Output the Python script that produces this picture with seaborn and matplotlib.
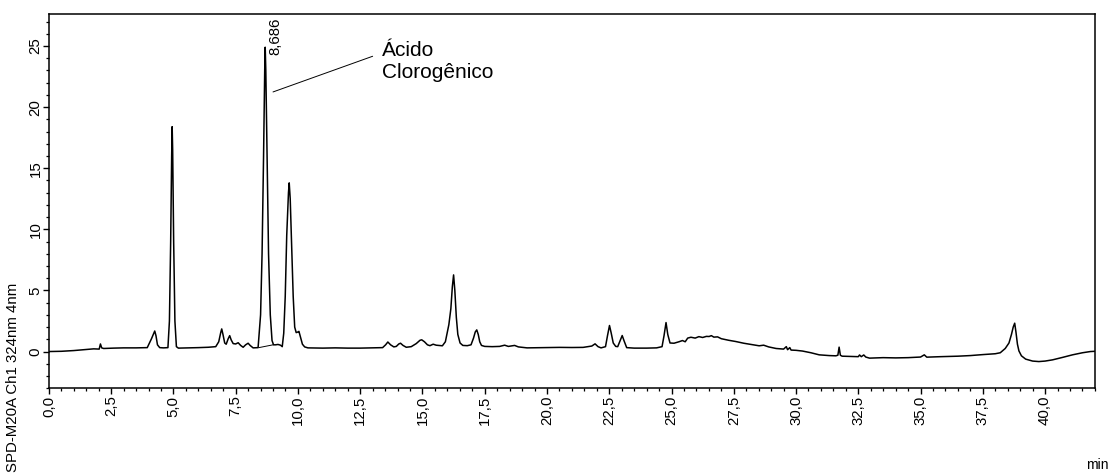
import matplotlib
matplotlib.use("Agg")
import matplotlib.pyplot as plt
from matplotlib.ticker import MultipleLocator, FuncFormatter
import numpy as np
import pandas as pd
import seaborn as sns

# Retention time (min) and detector signal of the chromatogram trace
time_min = [
    0.00, 0.50, 1.00, 1.40, 1.80, 2.02, 2.07, 2.12, 2.20, 2.60, 3.00, 3.50,
    3.95, 4.05, 4.12, 4.20, 4.25, 4.30, 4.36, 4.45, 4.60,
    4.78, 4.84, 4.89, 4.93, 4.95, 4.97, 5.01, 5.06, 5.12, 5.20,
    5.60, 6.00, 6.40, 6.70, 6.82, 6.90, 6.94, 6.99, 7.06, 7.12, 7.20, 7.26,
    7.32, 7.40, 7.50, 7.60, 7.70, 7.80, 7.90, 8.00, 8.08, 8.20,
    8.40, 8.50, 8.56, 8.62, 8.666, 8.686, 8.71, 8.76, 8.82, 8.89, 8.96, 9.02,
    9.10, 9.20, 9.30, 9.37, 9.43, 9.49, 9.55, 9.62, 9.65, 9.69, 9.75, 9.81,
    9.87, 9.93, 10.00, 10.04, 10.10, 10.18, 10.27, 10.40,
    11.00, 11.50, 12.00, 12.50, 13.00, 13.40, 13.52, 13.61, 13.72, 13.85,
    13.95, 14.05, 14.12, 14.22, 14.35, 14.55, 14.75, 14.90, 14.97, 15.08,
    15.20, 15.30, 15.43, 15.55, 15.80, 15.92, 16.00, 16.06, 16.14, 16.20,
    16.25, 16.30, 16.36, 16.42, 16.51, 16.62, 16.80, 16.95, 17.05, 17.12,
    17.18, 17.24, 17.30, 17.37, 17.50, 17.80, 18.10, 18.30, 18.45, 18.70,
    18.85, 19.20, 19.80, 20.50, 21.00, 21.45, 21.80, 21.93, 22.05, 22.17,
    22.35, 22.43, 22.51, 22.58, 22.66, 22.76, 22.84, 22.92, 23.02, 23.10,
    23.20, 23.50, 24.00, 24.40, 24.62, 24.70, 24.78, 24.85, 24.94, 25.10,
    25.30, 25.44, 25.55, 25.65, 25.78, 25.95, 26.10, 26.25, 26.40, 26.51,
    26.60, 26.70, 26.85, 27.00, 27.30, 27.58, 27.90, 28.20, 28.52, 28.70,
    28.90, 29.20, 29.50, 29.61, 29.66, 29.75, 29.80, 30.00, 30.26, 30.60,
    30.93, 31.33, 31.60, 31.68, 31.73, 31.78, 31.85, 32.20, 32.50, 32.55,
    32.62, 32.72, 32.80, 32.95, 33.50, 34.00, 34.50, 35.00, 35.15, 35.25,
    35.80, 36.50, 37.00, 37.50, 38.00, 38.20, 38.40, 38.55, 38.65, 38.72,
    38.78, 38.83, 38.89, 38.95, 39.05, 39.22, 39.50, 39.75, 40.00, 40.30,
    40.70, 41.10, 41.50, 41.82, 42.00,
]
signal = [
    0.00, 0.02, 0.08, 0.15, 0.22, 0.20, 0.62, 0.30, 0.25, 0.28, 0.30, 0.30,
    0.32, 0.75, 1.05, 1.45, 1.68, 1.30, 0.55, 0.32, 0.30,
    0.32, 2.50, 9.00, 16.00, 18.40, 16.50, 9.00, 2.50, 0.40, 0.28,
    0.30, 0.32, 0.35, 0.40, 0.80, 1.55, 1.85, 1.40, 0.70, 0.60, 1.05, 1.30,
    0.95, 0.65, 0.62, 0.72, 0.50, 0.35, 0.55, 0.68, 0.50, 0.30,
    0.32, 3.00, 8.00, 16.00, 23.00, 24.90, 23.00, 16.00, 8.00, 3.00, 0.90, 0.55,
    0.55, 0.58, 0.52, 0.40, 1.50, 4.50, 9.50, 13.00, 13.80, 12.50, 8.50, 4.50,
    2.00, 1.55, 1.60, 1.65, 1.20, 0.60, 0.38, 0.30,
    0.28, 0.30, 0.28, 0.28, 0.30, 0.32, 0.55, 0.78, 0.55, 0.38,
    0.42, 0.62, 0.68, 0.50, 0.35, 0.40, 0.65, 0.92, 0.96, 0.80,
    0.55, 0.48, 0.60, 0.52, 0.47, 0.80, 1.60, 2.20, 3.50, 5.30,
    6.27, 5.00, 2.80, 1.40, 0.70, 0.50, 0.48, 0.55, 1.10, 1.60,
    1.77, 1.40, 0.80, 0.50, 0.42, 0.40, 0.42, 0.52, 0.42, 0.50,
    0.38, 0.30, 0.32, 0.34, 0.33, 0.34, 0.45, 0.63, 0.40, 0.30,
    0.40, 1.30, 2.13, 1.50, 0.70, 0.42, 0.40, 0.80, 1.31, 0.85,
    0.32, 0.28, 0.28, 0.30, 0.40, 1.30, 2.37, 1.40, 0.70, 0.68,
    0.80, 0.90, 0.80, 1.10, 1.17, 1.10, 1.22, 1.15, 1.24, 1.23,
    1.30, 1.18, 1.20, 1.05, 0.92, 0.82, 0.68, 0.58, 0.47, 0.52,
    0.38, 0.25, 0.20, 0.40, 0.15, 0.32, 0.12, 0.10, 0.04, -0.10,
    -0.27, -0.33, -0.35, -0.30, 0.36, -0.30, -0.38, -0.40, -0.42, -0.28,
    -0.42, -0.28, -0.45, -0.54, -0.50, -0.52, -0.50, -0.45, -0.27, -0.46,
    -0.42, -0.38, -0.33, -0.25, -0.18, -0.10, 0.25, 0.70, 1.40, 2.00,
    2.32, 1.60, 0.60, 0.05, -0.35, -0.62, -0.78, -0.82, -0.78, -0.68,
    -0.48, -0.27, -0.10, 0.00, 0.02,
]

# Integration baseline drawn under the labelled peak
baseline_t = [8.43, 9.00]
baseline_y = [0.32, 0.55]

# Labelled peak (retention time, apex height)
peak_rt = 8.686
peak_height = 24.9
compound_name = "Ácido\nClorogênico"

x_ticks = [0.0, 2.5, 5.0, 7.5, 10.0, 12.5, 15.0, 17.5, 20.0, 22.5, 25.0,
           27.5, 30.0, 32.5, 35.0, 37.5, 40.0]
y_ticks = [0, 5, 10, 15, 20, 25]

sns.set_theme(style="ticks")
plt.rcParams["font.family"] = ["Liberation Sans", "DejaVu Sans"]

fig = plt.figure(figsize=(11.11, 4.74), dpi=100)
ax = fig.add_axes([0.044, 0.181, 0.9415, 0.789])

df = pd.DataFrame({"time": time_min, "signal": signal})
sns.lineplot(data=df, x="time", y="signal", ax=ax, color="black",
             linewidth=1.1, estimator=None, sort=False)
ax.plot(baseline_t, baseline_y, color="black", linewidth=0.7)

ax.set_xlim(0, 42)
ax.set_ylim(-3.0, 27.6)

ax.set_xticks(x_ticks)
ax.set_yticks(y_ticks)
ax.xaxis.set_minor_locator(MultipleLocator(0.5))
ax.yaxis.set_minor_locator(MultipleLocator(1))
ax.xaxis.set_major_formatter(FuncFormatter(lambda v, p: f"{v:.1f}".replace(".", ",")))
ax.yaxis.set_major_formatter(FuncFormatter(lambda v, p: f"{v:.0f}"))

ax.tick_params(axis="both", which="major", direction="out", length=4.5,
               width=1.0, color="black", labelsize=10.8, labelcolor="black")
ax.tick_params(axis="both", which="minor", direction="out", length=2.5,
               width=0.9, color="black")
ax.tick_params(axis="x", which="major", labelrotation=90, pad=0.8)
ax.tick_params(axis="y", which="major", labelrotation=90, pad=0.0)
for lbl in ax.get_yticklabels():
    lbl.set_va("center")

for side in ["top", "right", "bottom", "left"]:
    ax.spines[side].set_visible(True)
    ax.spines[side].set_color("black")
    ax.spines[side].set_linewidth(1.1)

ax.set_xlabel("")
ax.set_ylabel("SPD-M20A Ch1 324nm 4nm", fontsize=10.8, color="black")
ax.yaxis.set_label_coords(-0.0275, 0.03)

# Peak retention-time label and compound annotation
ax.text(peak_rt + 0.42, peak_height - 0.65, f"{peak_rt:.3f}".replace(".", ","),
        rotation=90, ha="center", va="bottom", fontsize=10.8, color="black")
ax.plot([9.0, 13.0], [21.24, 24.16], color="black", linewidth=0.7)
ax.text(13.36, 25.4, compound_name, ha="left", va="top", fontsize=15,
        linespacing=1.2, color="black")

fig.text(0.998, 0.019, "min", ha="right", va="center", fontsize=10, color="black")

fig.savefig("out.png", dpi=100, facecolor="white")
